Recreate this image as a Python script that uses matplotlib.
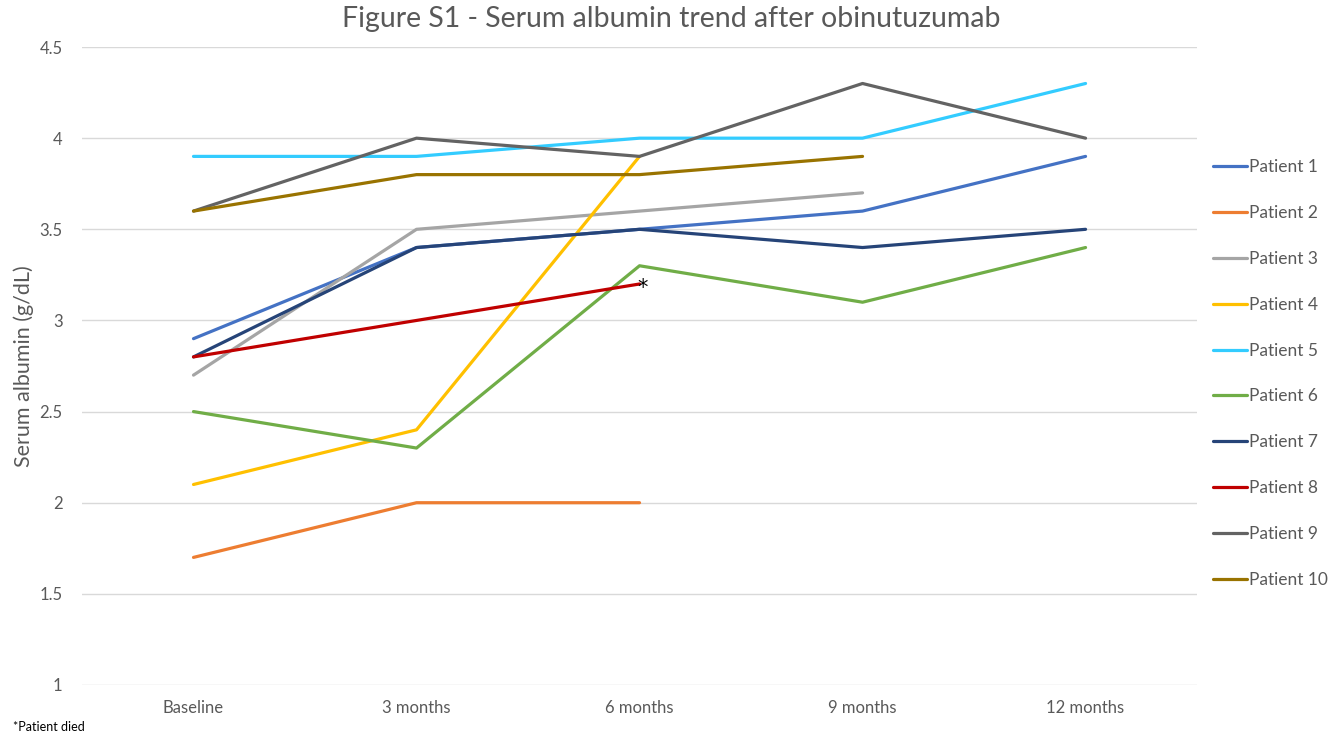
import matplotlib.pyplot as plt

# === Данные ===
timepoints = ['Baseline', '3 months', '6 months', '9 months', '12 months']

patient_1 = [2.9, 3.4, 3.5, 3.6, 3.9]
patient_2 = [1.7, 2.0, 2.0]
patient_3 = [2.7, 3.5, 3.6, 3.7]
patient_4 = [2.1, 2.4, 3.9]
patient_5 = [3.9, 3.9, 4.0, 4.0, 4.3]
patient_6 = [2.5, 2.3, 3.3, 3.1, 3.4]
patient_7 = [2.8, 3.4, 3.5, 3.4, 3.5]
patient_8 = [2.8, 3.0, 3.2]
patient_9 = [3.6, 4.0, 3.9, 4.3, 4.0]
patient_10 = [3.6, 3.8, 3.8, 3.9]

series = [patient_1, patient_2, patient_3, patient_4, patient_5,
          patient_6, patient_7, patient_8, patient_9, patient_10]
labels = [f'Patient {i}' for i in range(1, 11)]
colors = ['#4472C4', '#ED7D31', '#A5A5A5', '#FFC000', '#33CCFF',
          '#70AD47', '#264478', '#C00000', '#636363', '#997300']

plt.rcParams['font.family'] = ['Lato', 'DejaVu Sans']
text_color = '#595959'

fig = plt.figure(figsize=(13.42, 7.36), dpi=100)
ax = fig.add_axes([0.0611, 0.0693, 0.8309, 0.8668])

for vals, c, lab in zip(series, colors, labels):
    ax.plot(range(len(vals)), vals, color=c, lw=2.3, label=lab,
            solid_capstyle='round')

# Пациент 8 умер — звёздочка у последней точки
ax.annotate('*', (len(patient_8) - 1, patient_8[-1]), xytext=(2, -3),
            textcoords='offset points', fontsize=15, color='black',
            ha='center', va='center', family='DejaVu Sans')

ax.set_xlim(-0.5, len(timepoints) - 0.5)
ax.set_ylim(1, 4.5)
ax.set_xticks(range(len(timepoints)))
ax.set_xticklabels(timepoints)
ax.set_yticks([1, 1.5, 2, 2.5, 3, 3.5, 4, 4.5])
ax.set_yticklabels(['1', '1.5', '2', '2.5', '3', '3.5', '4', '4.5'])
ax.tick_params(length=0, labelsize=12, colors=text_color)
ax.tick_params(axis='y', pad=14)
ax.tick_params(axis='x', pad=11)
ax.grid(axis='y', color='#D9D9D9', lw=1)
ax.set_axisbelow(True)
for s in ax.spines.values():
    s.set_visible(False)

ax.set_ylabel('Serum albumin (g/dL)', fontsize=15.5, color=text_color,
              labelpad=4)

fig.suptitle('Figure S1 - Serum albumin trend after obinutuzumab',
             fontsize=20.5, color=text_color, y=0.992)

fig.legend(loc='upper left', bbox_to_anchor=(0.892, 0.805), frameon=False,
           fontsize=12.5, labelcolor=text_color, handlelength=2.0,
           handletextpad=0.1, labelspacing=1.72)

fig.text(0.010, 0.007, '*Patient died', fontsize=9, color='black')

fig.savefig('out.png', dpi=100)
